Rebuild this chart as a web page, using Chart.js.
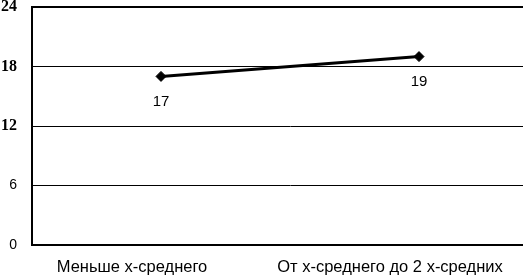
<!DOCTYPE html>
<html><head><meta charset="utf-8">
<script src="https://cdn.jsdelivr.net/npm/chart.js@4/dist/chart.umd.min.js"></script>
<style>
html,body{margin:0;padding:0;background:#fff;overflow:hidden;width:523px;height:277px;}
#wrap{width:554px;height:277px;}
</style></head>
<body><div id="wrap"><canvas id="c" width="554" height="277"></canvas></div>
<script>
const categories = ["Меньше х-среднего", "От х-среднего до 2 х-средних"];
const values = [17, 19];
const yTicks = [0, 6, 12, 18, 24];

const pointLabels = {
  id: 'pointLabels',
  afterDatasetsDraw(chart) {
    const ctx = chart.ctx;
    const meta = chart.getDatasetMeta(0);
    ctx.save();
    ctx.fillStyle = '#000';
    ctx.font = '15px "Liberation Sans"';
    ctx.textAlign = 'center';
    ctx.textBaseline = 'middle';
    meta.data.forEach((p, i) => {
      ctx.fillText(String(values[i]), p.x, p.y + 25);
    });
    ctx.restore();
  }
};

new Chart(document.getElementById('c'), {
  type: 'line',
  data: {
    labels: categories,
    datasets: [{
      data: values,
      borderColor: '#000',
      backgroundColor: '#000',
      borderWidth: 3,
      pointStyle: 'rectRot',
      pointRadius: 5,
      pointBorderWidth: 1,
      tension: 0
    }]
  },
  options: {
    responsive: false,
    animation: false,
    layout: { padding: { top: 7, left: 0, right: 0, bottom: 0 } },
    plugins: { legend: { display: false }, tooltip: { enabled: false } },
    scales: {
      x: {
        type: 'category',
        offset: true,
        afterFit(s) { s.height = 32; s.paddingLeft = 0; s.paddingRight = 0; },
        grid: { display: false, drawTicks: false },
        border: { display: true, color: '#000', width: 2 },
        ticks: { color: '#000', font: { family: 'Liberation Sans', size: 16.5 }, padding: 13, labelOffset: -29, maxRotation: 0, autoSkip: false }
      },
      y: {
        min: 0, max: 24,
        afterFit(s) { s.width = 32; s.paddingTop = 0; s.paddingBottom = 0; },
        afterBuildTicks(s) { s.ticks = yTicks.map(v => ({ value: v })); },
        grid: {
          color: '#000',
          lineWidth: (c) => (c.tick && c.tick.value === 24 ? 2 : 1),
          drawTicks: false
        },
        border: { display: true, color: '#000', width: 2 },
        ticks: {
          color: '#000',
          padding: 15,
          font: (c) => (c.tick && c.tick.value >= 12 ? { family: 'Liberation Serif', size: 16, weight: 'bold' } : { family: 'Liberation Sans', size: 14 })
        }
      }
    }
  },
  plugins: [pointLabels]
});
</script></body></html>
